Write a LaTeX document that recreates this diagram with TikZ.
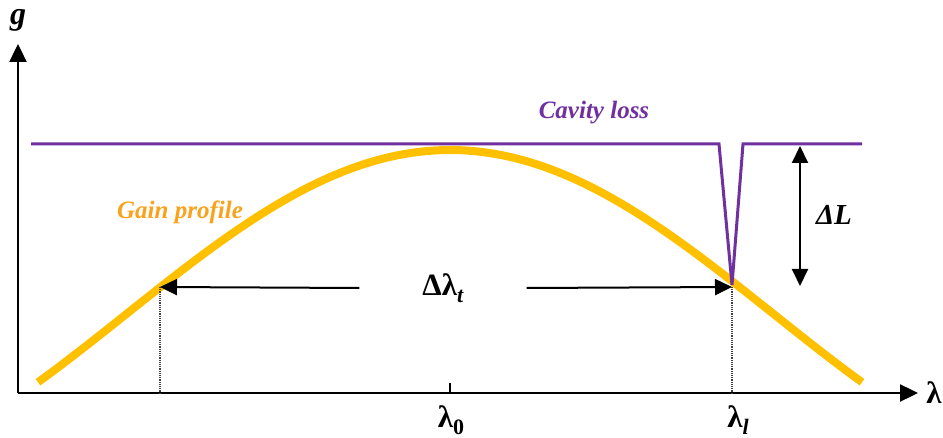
\documentclass[tikz,border=0pt]{standalone}
\usepackage{fontspec}
\setmainfont{Liberation Serif}
\usetikzlibrary{arrows.meta}
\definecolor{lossc}{HTML}{7030A0}
\definecolor{gainc}{HTML}{FFC000}
\definecolor{gaintxt}{HTML}{F9A21E}
\tikzset{
  axisline/.style={line width=2.4pt, -{Triangle[length=18pt,width=17pt]}},
  dimarrow/.style={line width=2pt, -{Triangle[length=17pt,width=16pt]}},
  dimboth/.style={line width=2pt, {Triangle[length=17pt,width=16pt]}-{Triangle[length=17pt,width=16pt]}},
  lossline/.style={line width=3pt, draw=lossc, line join=miter},
  gainline/.style={line width=8pt, draw=gainc},
  guide/.style={line width=1.2pt, densely dotted, draw=black!75},
  mathlab/.style={inner sep=0pt, font=\fontsize{31}{34}\selectfont\bfseries},
  curvelab/.style={inner sep=0pt, font=\fontsize{25}{29}\selectfont\bfseries\itshape},
}
\newcommand{\subtxt}[1]{\raisebox{-0.22em}{\fontsize{22}{24}\selectfont #1}}
\begin{document}
\begin{tikzpicture}[x=1pt,y=-1pt]
\useasboundingbox (0,0) rectangle (943,438);
% axes
\coordinate (O) at (18,393);
\coordinate (ytip) at (18,44);
\coordinate (xtip) at (918,393);
\draw[axisline] (O) -- (ytip);
\draw[axisline] (O) -- (xtip);
\node[mathlab, font=\fontsize{32}{34}\selectfont\bfseries\itshape] (g) at (18,20) {g};
\node[mathlab] (lam) at (934,393) {λ};
% gain curve
\draw[gainline] plot[domain=38:862, samples=120] (\x, {150+164*(1-cos(deg((\x-450)*2/412)))});
% cavity loss
\coordinate (L1) at (31,144);
\coordinate (L2) at (719,144);
\coordinate (dip) at (732,285);
\coordinate (L3) at (743,144);
\coordinate (L4) at (862,144);
\draw[lossline] (L1) -- (L2) -- (dip) -- (L3) -- (L4);
\node[curvelab, text=lossc] (cl) at (594,113) {Cavity loss};
\node[curvelab, text=gaintxt] (gp) at (180,212) {Gain profile};
% points
\coordinate (A) at (160,287);
\coordinate (B) at (732,287);
\draw[guide] (A) -- (A |- O);
\draw[guide] (B) -- (B |- O);
\coordinate (t0) at (450,383);
\draw[line width=1.2pt] (t0) -- (t0 |- O);
\node[mathlab] (l0) at (451,420) {λ\subtxt{0}};
\node[mathlab] (ll) at (738,420) {λ\subtxt{\textit{l}}};
% delta lambda_t
\node[inner sep=0pt, minimum width=167pt, minimum height=40pt, font=\fontsize{31}{34}\selectfont\bfseries] (dl) at (443,288) {Δλ\subtxt{\textit{t}}};
\draw[dimarrow] (dl.west) -- (A);
\draw[dimarrow] (dl.east) -- (B);
% delta L
\coordinate (Lt) at (800,146);
\coordinate (Lb) at (800,286);
\draw[dimboth] (Lt) -- (Lb);
\node[mathlab, font=\fontsize{29}{32}\selectfont\bfseries\itshape] (dL) at (834,215) {ΔL};
\end{tikzpicture}
\end{document}
